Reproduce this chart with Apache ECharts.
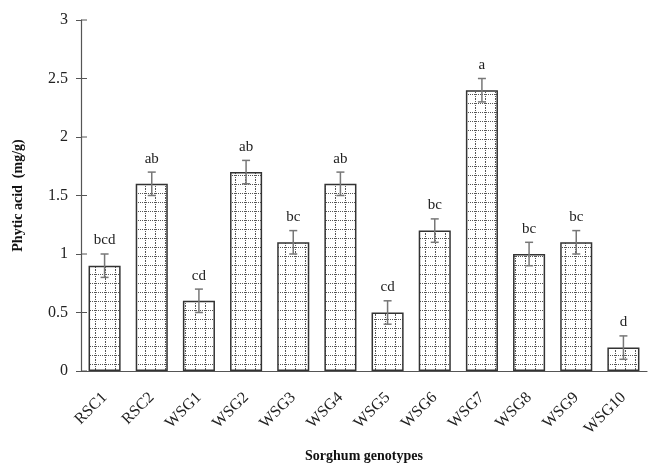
<!DOCTYPE html>
<html><head><meta charset="utf-8">
<script src="https://cdn.jsdelivr.net/npm/echarts@6/dist/echarts.min.js"></script>
<style>html,body{margin:0;padding:0;background:#fff}#c{width:651px;height:469px}</style>
</head><body><div id="c"></div>
<script>
var categories = ['RSC1','RSC2','WSG1','WSG2','WSG3','WSG4','WSG5','WSG6','WSG7','WSG8','WSG9','WSG10'];
var values = [0.9,1.6,0.6,1.7,1.1,1.6,0.5,1.2,2.4,1.0,1.1,0.2];
var errors = [0.1,0.1,0.1,0.1,0.1,0.1,0.1,0.1,0.1,0.1,0.1,0.1];
var letters = ['bcd','ab','cd','ab','bc','ab','cd','bc','a','bc','bc','d'];
var yTicks = [0,0.5,1,1.5,2,2.5,3];

var pc = document.createElement('canvas');
pc.width = 10; pc.height = 9;
var g = pc.getContext('2d');
g.fillStyle = '#fff'; g.fillRect(0,0,10,9);
g.fillStyle = '#555';
for (var i = 0; i < 10; i += 2) g.fillRect(i, 4, 1, 1);
for (var j = 0; j < 9; j += 2) g.fillRect(5, j, 1, 1);

var serif = '"Liberation Serif","DejaVu Serif",serif';
var chart = echarts.init(document.getElementById('c'));
var errData = values.map(function(v,i){ return [i, v, errors[i], letters[i]]; });
var tickData = yTicks.map(function(t){ return [0, t]; });
chart.setOption({
  animation:false,
  grid:{left:81,right:4,top:20,bottom:98},
  xAxis:{type:'category',data:categories,
    axisLine:{lineStyle:{color:'#555',width:1.2}},
    axisTick:{alignWithLabel:true,length:4,lineStyle:{color:'#555'}},
    axisLabel:{rotate:45,fontFamily:serif,fontSize:16,color:'#222',margin:24},
    name:'Sorghum genotypes',nameLocation:'middle',nameGap:78,
    nameTextStyle:{fontFamily:serif,fontSize:14,fontWeight:'bold',color:'#111'}},
  yAxis:{type:'value',min:0,max:3,interval:0.5,
    axisLine:{show:true,lineStyle:{color:'#555',width:1.2}},
    axisTick:{show:true,length:5,lineStyle:{color:'#555'}},
    splitLine:{show:false},
    axisLabel:{fontFamily:serif,fontSize:16,color:'#222',margin:13,
      formatter:function(v){return String(v);}},
    name:'Phytic acid  (mg/g)',nameLocation:'middle',nameGap:56,
    nameTextStyle:{fontFamily:serif,fontSize:14,fontWeight:'bold',color:'#111'}},
  series:[{type:'bar',data:values,barWidth:'68%',
    itemStyle:{color:{image:pc,repeat:'repeat'},borderColor:'#333',borderWidth:1.5}},
   {type:'custom',data:tickData,z:11,clip:false,
    renderItem:function(params,api){
      var p=api.coord([0, api.value(1)]);
      var x0=params.coordSys.x;
      return {type:'line',shape:{x1:x0,y1:p[1],x2:x0+6,y2:p[1]},style:{stroke:'#555',lineWidth:1}};
    }},
   {type:'custom',data:errData,z:10,
    renderItem:function(params,api){
      var x=api.value(0), v=api.value(1), e=api.value(2);
      var top=api.coord([x,v+e]), bot=api.coord([x,v-e]);
      var cx=top[0], hw=4;
      var st={stroke:'#777',lineWidth:1.5};
      return {type:'group',children:[
        {type:'line',shape:{x1:cx,y1:top[1],x2:cx,y2:bot[1]},style:st},
        {type:'line',shape:{x1:cx-hw,y1:top[1],x2:cx+hw,y2:top[1]},style:st},
        {type:'line',shape:{x1:cx-hw,y1:bot[1],x2:cx+hw,y2:bot[1]},style:st},
        {type:'text',style:{text:letters[params.dataIndex],x:cx,y:top[1]-6,
          textAlign:'center',textVerticalAlign:'bottom',
          font:'15px '+serif,fill:'#222'}}
      ]};
    }}]
});
</script></body></html>
